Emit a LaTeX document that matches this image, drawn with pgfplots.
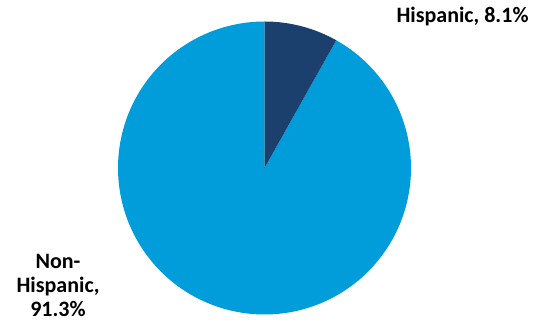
\documentclass[border=0pt]{standalone}
\usepackage{pgfplots}
\pgfplotsset{compat=1.18}
\usepackage{fontspec}
\setmainfont{Carlito}
\definecolor{navy}{RGB}{27,64,110}
\definecolor{lblue}{RGB}{0,157,218}
\begin{document}
\begin{tikzpicture}
\pgfmathsetmacro{\vH}{8.1}
\pgfmathsetmacro{\vN}{91.3}
\pgfmathsetmacro{\aH}{90-360*\vH/(\vH+\vN)}
\pgfmathsetmacro{\aE}{90-360}
\begin{axis}[
  at={(0,0)}, anchor=south west,
  scale only axis, width=544bp, height=324bp,
  xmin=0, xmax=544, ymin=0, ymax=324,
  hide axis, clip=false,
]
\addplot[fill=lblue, draw=none, domain=\aE:\aH, samples=200, variable=\t]
  ({264.5+146.5*cos(\t)}, {156+146.5*sin(\t)}) -- (axis cs:264.5,156) -- cycle;
\addplot[fill=navy, draw=none, domain=\aH:90, samples=40, variable=\t]
  ({264.5+146.5*cos(\t)}, {156+146.5*sin(\t)}) -- (axis cs:264.5,156) -- cycle;
\node[font=\fontsize{22bp}{24bp}\selectfont\bfseries, anchor=center] at (axis cs:462.5,307.5) {Hispanic, 8.1\%};
\node[font=\fontsize{22bp}{24bp}\selectfont\bfseries, align=center, anchor=center] at (axis cs:58,39) {Non-\\Hispanic,\\91.3\%};
\end{axis}
\pgfresetboundingbox
\path (0,0) rectangle (544bp,324bp);
\end{tikzpicture}
\end{document}
